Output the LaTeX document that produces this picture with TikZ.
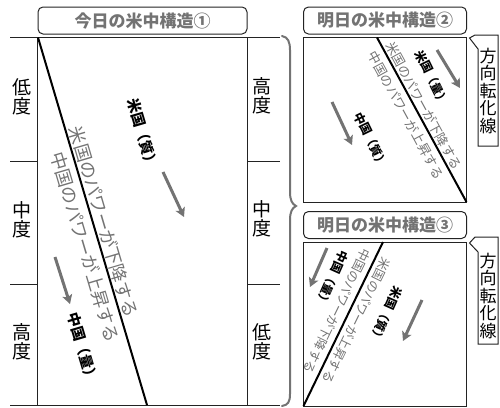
\documentclass[tikz,border=0pt]{standalone}
\usepackage{fontspec}
\setmainfont{Noto Sans CJK JP}
\usetikzlibrary{arrows.meta}
\definecolor{tg}{RGB}{115,115,115}
\definecolor{ln}{RGB}{35,35,35}
\begin{document}
\begin{tikzpicture}[x=1pt,y=-1pt,
  hdr/.style={draw=ln, line width=1pt, rounded corners=5pt, minimum height=27pt, inner sep=0pt, text=tg, font=\fontsize{17}{17}\selectfont\bfseries},
  frame/.style={draw=ln, line width=1pt},
  diag/.style={draw=black, line width=2pt},
  side/.style={font=\fontsize{19}{19.5}\selectfont, align=center, inner sep=0pt},
  along/.style={text=tg, inner sep=0pt},
  who/.style={font=\bfseries, inner sep=0pt},
  trend/.style={draw=tg, line width=3pt, -{Stealth[length=9pt,width=10pt,inset=2pt]}},
  brc/.style={draw=tg, line width=2pt, line cap=round},
  callout/.style={draw=ln, line width=1pt, fill=white},
  calltext/.style={font=\fontsize{17}{17.5}\selectfont, align=center, inner sep=0pt}
]
\useasboundingbox (0,0) rectangle (500,407);

% ---------- headers ----------
\node[hdr, minimum width=209pt] (h1) at (142.5,20.5) {今日の米中構造①};
\node[hdr, minimum width=163pt] (h2) at (385,20.5) {明日の米中構造②};
\node[hdr, minimum width=163pt] (h3) at (385,225) {明日の米中構造③};

% ---------- level scale ----------
\draw[frame] (10,37.5) -- (280,37.5);
\draw[frame] (10,405) -- (280,405);
\draw[frame] (37.5,37.5) -- (37.5,405);
\draw[frame] (247,37.5) -- (247,405);
\draw[frame] (10,161) -- (37.5,161);
\draw[frame] (10,284) -- (37.5,284);
\draw[frame] (247,161) -- (280,161);
\draw[frame] (247,284) -- (280,284);

\node[side] (l1) at (22,97) {低\\度};
\node[side] (l2) at (22,220) {中\\度};
\node[side] (l3) at (22,342) {高\\度};
\node[side] (r1) at (262,96) {高\\度};
\node[side] (r2) at (262,219) {中\\度};
\node[side] (r3) at (262,342) {低\\度};

% ---------- brace ----------
\draw[brc] (282,36) .. controls (288,37) and (290,42) .. (290,50) -- (290,192)
  .. controls (290,200) and (292,204) .. (296,206)
  .. controls (292,208) and (290,212) .. (290,220) -- (290,394)
  .. controls (290,402) and (288,405) .. (282,406);

% ---------- panel 1 ----------
\coordinate (a1) at (38,37.5);
\coordinate (b1) at (147,405);
\draw[diag] (a1) -- (b1);
\node[along, rotate=-73.5, font=\fontsize{18}{18}\selectfont] (t1u) at (103.7,221.7) {米国のパワーが下降する};
\node[along, rotate=-73.5, font=\fontsize{18}{18}\selectfont] (t1c) at (85.1,247.2) {中国のパワーが上昇する};
\node[who, rotate=-73.5, font=\fontsize{14.5}{14.5}\selectfont\bfseries] (w1u) at (143,134) {米国（質）};
\node[who, rotate=-73.5, font=\fontsize{14.5}{14.5}\selectfont\bfseries] (w1c) at (83,348) {中国（量）};
\coordinate (p1s) at (163,172);
\coordinate (p1e) at (184,217);
\coordinate (q1s) at (55,257);
\coordinate (q1e) at (70,304);
\draw[trend] (p1s) -- (p1e);
\draw[trend] (q1s) -- (q1e);

% ---------- panel 2 ----------
\draw[frame] (303.5,37.5) rectangle (466.5,202);
\coordinate (a2) at (377,37.5);
\coordinate (b2) at (466.5,202);
\draw[diag] (a2) -- (b2);
\node[along, rotate=-61.4, font=\fontsize{13}{13}\selectfont] (t2u) at (423.6,105.8) {米国のパワーが下降する};
\node[along, rotate=-61.4, font=\fontsize{13}{13}\selectfont] (t2c) at (406.1,115.3) {中国のパワーが上昇する};
\node[who, rotate=-64, font=\fontsize{12}{12}\selectfont\bfseries] (w2u) at (432,78) {米国（量）};
\node[who, rotate=-64, font=\fontsize{12}{12}\selectfont\bfseries] (w2c) at (371,140) {中国（質）};
\coordinate (p2s) at (437,50);
\coordinate (p2e) at (460,88);
\coordinate (q2s) at (332,102);
\coordinate (q2e) at (352,145);
\draw[trend] (p2s) -- (p2e);
\draw[trend] (q2s) -- (q2e);

% ---------- panel 3 ----------
\draw[frame] (303.5,242) rectangle (466.5,406);
\coordinate (a3) at (383,242);
\coordinate (b3) at (303.5,406);
\draw[diag] (a3) -- (b3);
\node[along, rotate=-116, font=\fontsize{12.5}{12.5}\selectfont] (t3c) at (337.1,311.0) {中国のパワーが下降する};
\node[along, rotate=-116, font=\fontsize{12.5}{12.5}\selectfont] (t3u) at (356.9,320.6) {米国のパワーが上昇する};
\node[who, rotate=-114, font=\fontsize{12}{12}\selectfont\bfseries] (w3c) at (332,279) {中国（量）};
\node[who, rotate=-114, font=\fontsize{12}{12}\selectfont\bfseries] (w3u) at (386,315) {米国（質）};
\coordinate (q3s) at (327,248);
\coordinate (q3e) at (310,287);
\coordinate (p3s) at (422,300);
\coordinate (p3e) at (403,341);
\draw[trend] (q3s) -- (q3e);
\draw[trend] (p3s) -- (p3e);

% ---------- callouts ----------
\draw[callout] (475,35) -- (498,35) -- (498,146) -- (478,146) -- (478,49) -- (469.5,38) -- cycle;
\node[calltext] (c1) at (488,91) {方\\向\\転\\化\\線};
\draw[callout] (475,237) -- (498,237) -- (498,344) -- (478,344) -- (478,252) -- (469.5,243) -- cycle;
\node[calltext] (c2) at (488,296) {方\\向\\転\\化\\線};
\end{tikzpicture}
\end{document}
